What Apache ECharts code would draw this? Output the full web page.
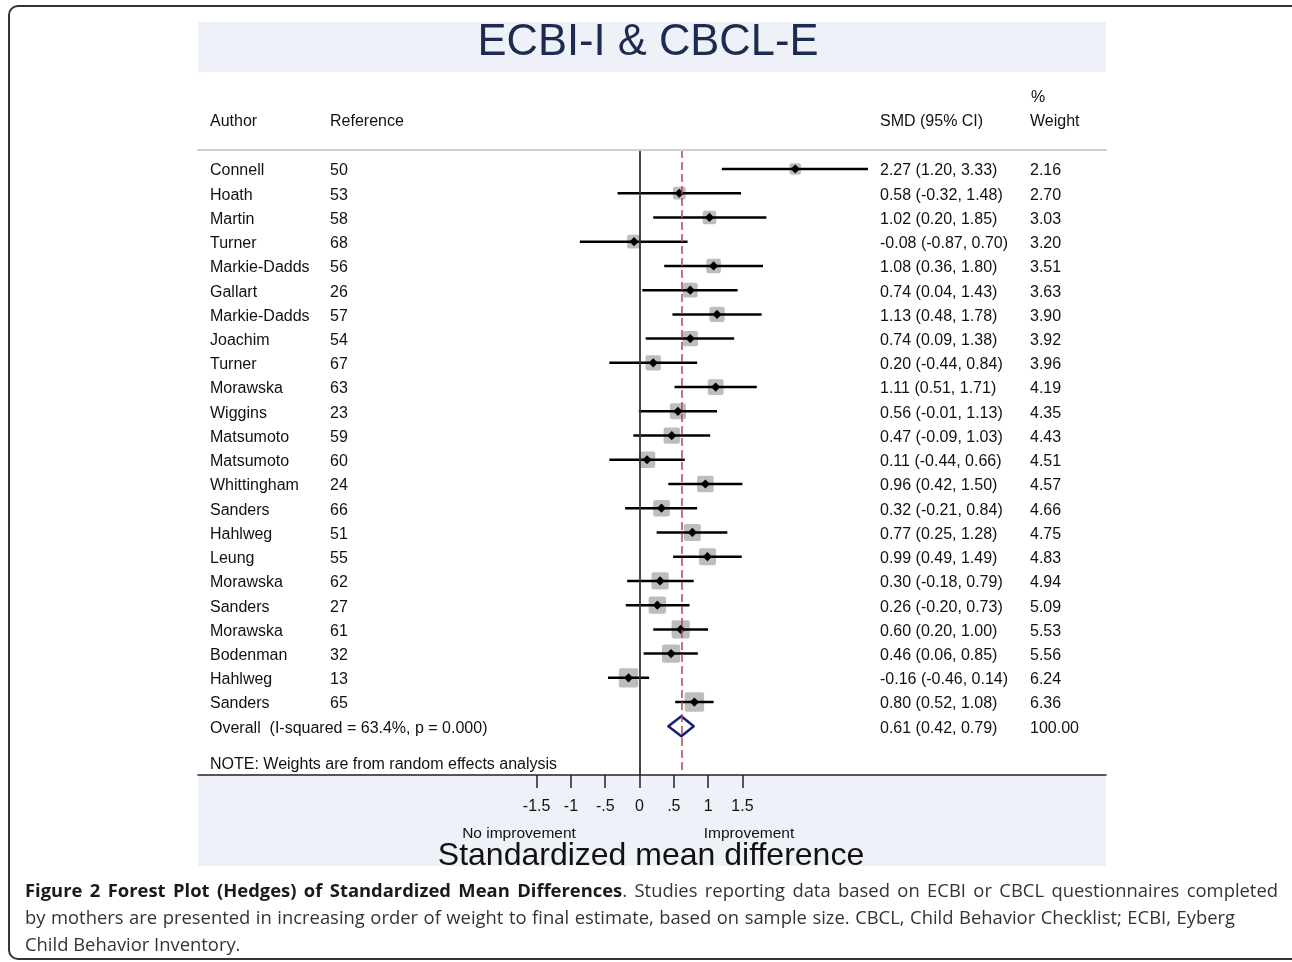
<!DOCTYPE html>
<html>
<head>
<meta charset="utf-8">
<script src="https://cdn.jsdelivr.net/npm/echarts@6/dist/echarts.min.js"></script>
<style>html,body{margin:0;padding:0;background:#fff;}#c{width:1292px;height:962px;}</style>
</head>
<body>
<div id="c"></div>
<script>
const authors = ['Connell','Hoath','Martin','Turner','Markie-Dadds','Gallart','Markie-Dadds','Joachim','Turner','Morawska','Wiggins','Matsumoto','Matsumoto','Whittingham','Sanders','Hahlweg','Leung','Morawska','Sanders','Morawska','Bodenman','Hahlweg','Sanders'];
const references = [50,53,58,68,56,26,57,54,67,63,23,59,60,24,66,51,55,62,27,61,32,13,65];
const smd = [2.27,0.58,1.02,-0.08,1.08,0.74,1.13,0.74,0.20,1.11,0.56,0.47,0.11,0.96,0.32,0.77,0.99,0.30,0.26,0.60,0.46,-0.16,0.80];
const ciLow = [1.20,-0.32,0.20,-0.87,0.36,0.04,0.48,0.09,-0.44,0.51,-0.01,-0.09,-0.44,0.42,-0.21,0.25,0.49,-0.18,-0.20,0.20,0.06,-0.46,0.52];
const ciHigh = [3.33,1.48,1.85,0.70,1.80,1.43,1.78,1.38,0.84,1.71,1.13,1.03,0.66,1.50,0.84,1.28,1.49,0.79,0.73,1.00,0.85,0.14,1.08];
const weights = [2.16,2.70,3.03,3.20,3.51,3.63,3.90,3.92,3.96,4.19,4.35,4.43,4.51,4.57,4.66,4.75,4.83,4.94,5.09,5.53,5.56,6.24,6.36];
const overallLabel = 'Overall  (I-squared = 63.4%, p = 0.000)';
const overallSmd = 0.61, overallLow = 0.42, overallHigh = 0.79, overallWeight = 100.00;
const tickValues = [-1.5,-1,-0.5,0,0.5,1,1.5];
const tickLabels = ['-1.5','-1','-.5','0','.5','1','1.5'];
const noteText = 'NOTE: Weights are from random effects analysis';
const captionBold = 'Figure 2 Forest Plot (Hedges) of Standardized Mean Differences';
const captionLine1 = '. Studies reporting data based on ECBI or CBCL questionnaires completed';
const captionLine2 = 'by mothers are presented in increasing order of weight to final estimate, based on sample size. CBCL, Child Behavior Checklist; ECBI, Eyberg';
const captionLine3 = 'Child Behavior Inventory.';

const FONT = '"Liberation Sans", Arial, sans-serif';
const CFONT = '"Open Sans", sans-serif';
const CSIZE = 18.4;
const TXT = '#111';
const TY = 2;
const nRows = authors.length;
const maxW = Math.max(...weights);

function fmtCI(m, l, h) {
  return m.toFixed(2) + ' (' + l.toFixed(2) + ', ' + h.toFixed(2) + ')';
}

const mctx = document.createElement('canvas').getContext('2d');
function measure(t, bold) {
  mctx.font = (bold ? 'bold ' : '') + CSIZE + 'px ' + CFONT;
  return mctx.measureText(t).width;
}
// tokens: {t, b, glue}
function justified(tokens, x0, x1, y) {
  const widths = tokens.map(k => measure(k.t, k.b));
  const total = widths.reduce((a, b) => a + b, 0);
  const gaps = tokens.filter((k, i) => i < tokens.length - 1 && !k.glue).length;
  const gap = (x1 - x0 - total) / gaps;
  let x = x0;
  const els = [];
  tokens.forEach((k, i) => {
    els.push({type: 'text', z: 6, silent: true, style: {text: k.t, x: x, y: y, fill: k.b ? '#1a1a1a' : '#333',
      font: (k.b ? 'bold ' : '') + CSIZE + 'px ' + CFONT, textVerticalAlign: 'middle'}});
    x += widths[i] + (k.glue ? 0 : gap);
  });
  return els;
}
const tok1 = captionBold.split(' ').map(w => ({t: w, b: true}));
tok1[tok1.length - 1].glue = true;
const rest1 = captionLine1.split(' ');
tok1.push({t: rest1[0], b: false});
rest1.slice(1).forEach(w => tok1.push({t: w, b: false}));
const tok2 = captionLine2.split(' ').map(w => ({t: w, b: false}));

const chart = echarts.init(document.getElementById('c'), null, {renderer: 'canvas'});

const studyData = smd.map((m, i) => [m, i, ciLow[i], ciHigh[i], weights[i]]);
const textRows = authors.map((a, i) => [0, i]);
textRows.push([0, nRows]);

const hdr = (t, x, y) => ({type: 'text', z: 6, silent: true, style: {text: t, x: x, y: y + TY, fill: TXT, font: '16px ' + FONT, textVerticalAlign: 'middle'}});

const option = {
  backgroundColor: '#fff',
  animation: false,
  grid: {left: 198, right: 186, top: 150, bottom: 187, containLabel: false},
  xAxis: [
    {
      type: 'value', position: 'bottom', min: -6.436, max: 6.80, z: 10,
      axisLine: {show: true, onZero: false, lineStyle: {color: '#222', width: 1.5}},
      axisTick: {show: true, customValues: tickValues, length: 13, lineStyle: {color: '#222', width: 1.5}},
      axisLabel: {show: true, customValues: tickValues, margin: 24, color: TXT, fontSize: 16, fontFamily: FONT,
        formatter: function (v) { const k = tickValues.indexOf(v); return k >= 0 ? tickLabels[k] : ''; }},
      splitLine: {show: false}
    },
    {
      type: 'value', position: 'top', min: -6.436, max: 6.80, z: 10,
      axisLine: {show: true, onZero: false, lineStyle: {color: '#cfcfcf', width: 2}},
      axisTick: {show: false}, axisLabel: {show: false}, splitLine: {show: false}
    }
  ],
  yAxis: {
    type: 'value', inverse: true, min: -0.784, max: 25.01, show: false
  },
  series: [
    {
      type: 'line', data: [], silent: true,
      markLine: {
        silent: true, symbol: ['none', 'none'], label: {show: false},
        data: [
          {xAxis: 0, lineStyle: {color: '#333', width: 1.8, type: 'solid'}},
          {xAxis: overallSmd, lineStyle: {color: '#b3474f', width: 1.5, type: [8, 4]}}
        ]
      }
    },
    {
      type: 'custom', silent: true, z: 3,
      data: studyData,
      renderItem: function (params, api) {
        const c = api.coord([api.value(0), api.value(1)]);
        const l = api.coord([api.value(2), api.value(1)]);
        const h = api.coord([api.value(3), api.value(1)]);
        const s = 19.5 * Math.sqrt(api.value(4) / maxW);
        const d = 4.6;
        return {
          type: 'group',
          children: [
            {type: 'rect', shape: {x: c[0] - s / 2, y: c[1] - s / 2, width: s, height: s, r: 2}, style: {fill: '#bdbdbd'}},
            {type: 'line', shape: {x1: l[0], y1: l[1], x2: h[0], y2: h[1]}, style: {stroke: '#000', lineWidth: 2.5}},
            {type: 'polygon', shape: {points: [[c[0] - d, c[1]], [c[0], c[1] - d], [c[0] + d, c[1]], [c[0], c[1] + d]]}, style: {fill: '#000'}}
          ]
        };
      }
    },
    {
      type: 'custom', silent: true, z: 4,
      data: [[overallSmd, nRows, overallLow, overallHigh]],
      renderItem: function (params, api) {
        const c = api.coord([api.value(0), api.value(1)]);
        const l = api.coord([api.value(2), api.value(1)]);
        const h = api.coord([api.value(3), api.value(1)]);
        const hh = 10;
        return {
          type: 'polygon',
          shape: {points: [[l[0], l[1]], [c[0], c[1] - hh], [h[0], h[1]], [c[0], c[1] + hh]]},
          style: {fill: '#fff', stroke: '#1c1c7c', lineWidth: 2.5, lineJoin: 'round'}
        };
      }
    },
    {
      type: 'custom', silent: true, z: 5,
      data: textRows,
      renderItem: function (params, api) {
        const i = params.dataIndex;
        const y = api.coord([0, api.value(1)])[1] + TY;
        const st = (t, x) => ({type: 'text', style: {text: t, x: x, y: y, fill: TXT, font: '16px ' + FONT, textVerticalAlign: 'middle', textAlign: 'left'}});
        if (i < nRows) {
          return {type: 'group', children: [
            st(authors[i], 210),
            st(String(references[i]), 330),
            st(fmtCI(smd[i], ciLow[i], ciHigh[i]), 880),
            st(weights[i].toFixed(2), 1030)
          ]};
        }
        return {type: 'group', children: [
          st(overallLabel, 210),
          st(fmtCI(overallSmd, overallLow, overallHigh), 880),
          st(overallWeight.toFixed(2), 1030)
        ]};
      }
    },
    {
      type: 'custom', silent: true, z: 5,
      data: [[0, 24.5]],
      renderItem: function (params, api) {
        const y = api.coord([0, api.value(1)])[1] + TY;
        return {type: 'text', style: {text: noteText, x: 210, y: y, fill: TXT, font: '16px ' + FONT, textVerticalAlign: 'middle'}};
      }
    }
  ],
  graphic: {
    elements: [
      {type: 'rect', z: -5, silent: true, shape: {x: 9, y: 6, width: 1320, height: 953, r: 9}, style: {fill: '#fff', stroke: '#333', lineWidth: 2}},
      {type: 'rect', z: -4, silent: true, shape: {x: 198, y: 22, width: 908, height: 50}, style: {fill: '#eef1f7'}},
      {type: 'rect', z: -4, silent: true, shape: {x: 198, y: 775, width: 908, height: 91}, style: {fill: '#eef1f7'}},
      {type: 'text', z: 6, silent: true, style: {text: 'ECBI-I & CBCL-E', x: 648, y: 43, fill: '#1c2b4f', font: '43.5px ' + FONT, textAlign: 'center', textVerticalAlign: 'middle'}},
      hdr('Author', 210, 120),
      hdr('Reference', 330, 120),
      hdr('SMD (95% CI)', 880, 120),
      hdr('%', 1031, 96),
      hdr('Weight', 1030, 120),
      {type: 'text', z: 6, silent: true, style: {text: 'No improvement', x: 519, y: 834, fill: TXT, font: '15.5px ' + FONT, textAlign: 'center', textVerticalAlign: 'middle'}},
      {type: 'text', z: 6, silent: true, style: {text: 'Improvement', x: 749, y: 834, fill: TXT, font: '15.5px ' + FONT, textAlign: 'center', textVerticalAlign: 'middle'}},
      {type: 'text', z: 6, silent: true, style: {text: 'Standardized mean difference', x: 651, y: 856, fill: TXT, font: '32px ' + FONT, textAlign: 'center', textVerticalAlign: 'middle'}}
    ].concat(justified(tok1, 25, 1278, 890 + TY))
     .concat(justified(tok2, 25, 1235, 917 + TY))
     .concat([{type: 'text', z: 6, silent: true, style: {text: captionLine3, x: 25, y: 944 + TY, fill: '#333', font: CSIZE + 'px ' + CFONT, textVerticalAlign: 'middle'}}])
  }
};
chart.setOption(option);
</script>
</body>
</html>
